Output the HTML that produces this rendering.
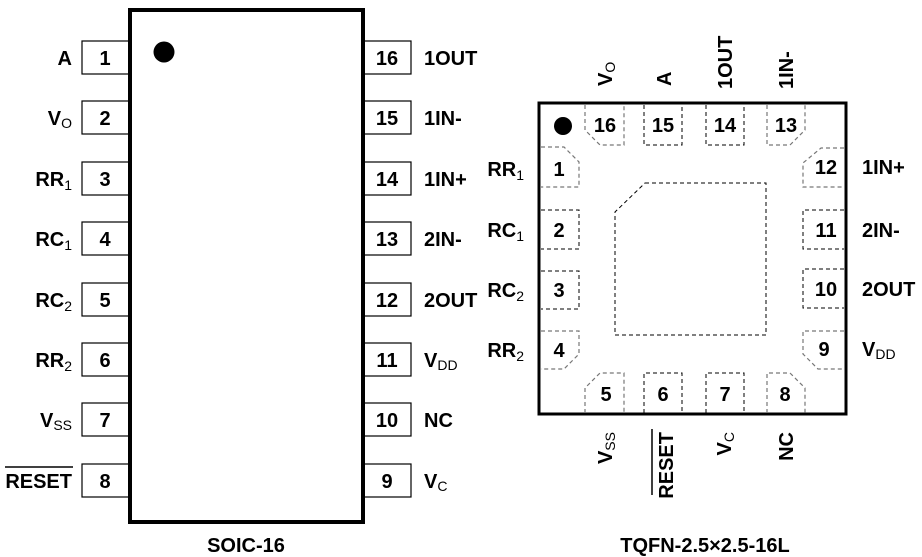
<!DOCTYPE html>
<html><head><meta charset="utf-8"><style>
html,body{margin:0;padding:0;background:#fff}
svg{display:block}
text{font-family:"Liberation Sans",Arial,sans-serif;font-weight:bold;font-size:20px;fill:#000}
.s{font-size:14px;font-weight:normal}
.g{fill:none;stroke:#777;stroke-width:1.2;stroke-dasharray:4,3}
.k{fill:none;stroke:#000;stroke-width:1;stroke-dasharray:4,3}
</style></head><body>
<svg width="922" height="557" viewBox="0 0 922 557">
<!-- SOIC -->
<g fill="#fff" stroke="#000" stroke-width="1.2">
<rect x="82" y="41" width="48" height="33"/><rect x="82" y="101" width="48" height="33"/>
<rect x="82" y="162" width="48" height="33"/><rect x="82" y="222" width="48" height="33"/>
<rect x="82" y="283" width="48" height="33"/><rect x="82" y="343" width="48" height="33"/>
<rect x="82" y="403" width="48" height="33"/><rect x="82" y="464" width="48" height="33"/>
<rect x="363" y="41" width="48" height="33"/><rect x="363" y="101" width="48" height="33"/>
<rect x="363" y="162" width="48" height="33"/><rect x="363" y="222" width="48" height="33"/>
<rect x="363" y="283" width="48" height="33"/><rect x="363" y="343" width="48" height="33"/>
<rect x="363" y="403" width="48" height="33"/><rect x="363" y="464" width="48" height="33"/>
</g>
<rect x="130" y="10" width="233" height="512" fill="#fff" stroke="#000" stroke-width="4"/>
<circle cx="164" cy="52" r="10.5" fill="#000"/>
<g text-anchor="middle">
<text x="105" y="65">1</text><text x="105" y="125">2</text><text x="105" y="186">3</text><text x="105" y="246">4</text>
<text x="105" y="307">5</text><text x="105" y="367">6</text><text x="105" y="427">7</text><text x="105" y="488">8</text>
<text x="387" y="65">16</text><text x="387" y="125">15</text><text x="387" y="186">14</text><text x="387" y="246">13</text>
<text x="387" y="307">12</text><text x="387" y="367">11</text><text x="387" y="427">10</text><text x="387" y="488">9</text>
</g>
<g text-anchor="end">
<text x="72" y="65">A</text>
<text x="72" y="125">V<tspan class="s" dy="3">O</tspan></text>
<text x="72" y="186">RR<tspan class="s" dy="4">1</tspan></text>
<text x="72" y="246">RC<tspan class="s" dy="4">1</tspan></text>
<text x="72" y="307">RC<tspan class="s" dy="4">2</tspan></text>
<text x="72" y="367">RR<tspan class="s" dy="4">2</tspan></text>
<text x="72" y="427">V<tspan class="s" dy="3">SS</tspan></text>
<text x="72" y="488">RESET</text>
</g>
<line x1="5" y1="467" x2="73" y2="467" stroke="#000" stroke-width="1.5"/>
<text x="424" y="65">1OUT</text><text x="424" y="125">1IN-</text><text x="424" y="186">1IN+</text><text x="424" y="246">2IN-</text>
<text x="424" y="307">2OUT</text><text x="424" y="367">V<tspan class="s" dy="3">DD</tspan></text>
<text x="424" y="427">NC</text><text x="424" y="488">V<tspan class="s" dy="3">C</tspan></text>
<text x="246" y="552" text-anchor="middle">SOIC-16</text>

<!-- TQFN -->
<rect x="539" y="103" width="307" height="311" fill="#fff" stroke="#000" stroke-width="3"/>
<circle cx="563" cy="126" r="9" fill="#000"/>
<path class="g" d="M585,105 V130 L600,145 H624 V105"/>
<path class="k" d="M644,105 V145 H682 V105"/>
<path class="k" d="M706,105 V145 H744 V105"/>
<path class="g" d="M767,105 V145 H790 L805,130 V105"/>
<path class="g" d="M585,413 V388 L600,373 H624 V413"/>
<path class="k" d="M644,413 V373 H682 V413"/>
<path class="k" d="M706,413 V373 H744 V413"/>
<path class="g" d="M767,413 V373 H790 L805,388 V413"/>
<path class="g" d="M541,147 H564 L579,162 V187 H541"/>
<path class="k" d="M541,210 H579 V249 H541"/>
<path class="k" d="M541,271 H579 V309 H541"/>
<path class="g" d="M541,331 H579 V354 L564,369 H541"/>
<path class="g" d="M844,148 H821 L803,163 V187 H844"/>
<path class="k" d="M844,210 H803 V249 H844"/>
<path class="k" d="M844,269 H803 V308 H844"/>
<path class="g" d="M844,331 H803 V354 L818,369 H844"/>
<path class="k" d="M645,183 H766 V335 H615 V212 Z"/>
<g text-anchor="middle">
<text x="605" y="132">16</text><text x="663" y="132">15</text><text x="725" y="132">14</text><text x="786" y="132">13</text>
<text x="559" y="176">1</text><text x="559" y="237">2</text><text x="559" y="297">3</text><text x="559" y="357">4</text>
<text x="826" y="174">12</text><text x="826" y="237">11</text><text x="826" y="296">10</text><text x="824" y="356">9</text>
<text x="606" y="401">5</text><text x="663" y="401">6</text><text x="725" y="401">7</text><text x="785" y="401">8</text>
</g>
<g text-anchor="end">
<text x="524" y="176">RR<tspan class="s" dy="4">1</tspan></text>
<text x="524" y="237">RC<tspan class="s" dy="4">1</tspan></text>
<text x="524" y="297">RC<tspan class="s" dy="4">2</tspan></text>
<text x="524" y="357">RR<tspan class="s" dy="4">2</tspan></text>
</g>
<text x="862" y="174">1IN+</text><text x="862" y="237">2IN-</text><text x="862" y="296">2OUT</text>
<text x="862" y="356">V<tspan class="s" dy="3">DD</tspan></text>
<text transform="translate(612,86) rotate(-90)">V<tspan class="s" dy="3">O</tspan></text>
<text transform="translate(671,86) rotate(-90)">A</text>
<text transform="translate(732,89) rotate(-90)">1OUT</text>
<text transform="translate(793,89) rotate(-90)">1IN-</text>
<text transform="translate(612,432) rotate(-90)" text-anchor="end">V<tspan class="s" dy="3">SS</tspan></text>
<text transform="translate(673,432) rotate(-90)" text-anchor="end">RESET</text>
<line x1="652" y1="429" x2="652" y2="495" stroke="#000" stroke-width="1.5"/>
<text transform="translate(731,432) rotate(-90)" text-anchor="end">V<tspan class="s" dy="3">C</tspan></text>
<text transform="translate(793,432) rotate(-90)" text-anchor="end">NC</text>
<text x="705" y="552" text-anchor="middle">TQFN-2.5×2.5-16L</text>
</svg>
</body></html>
